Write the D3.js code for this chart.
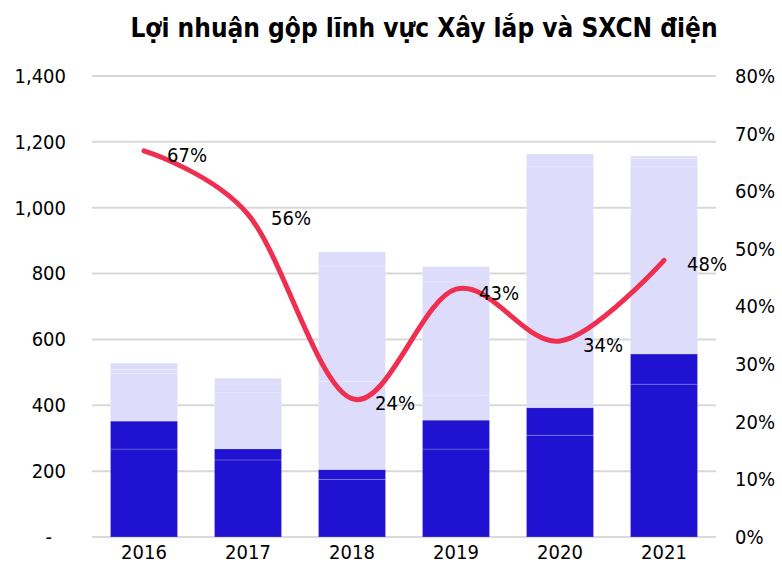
<!DOCTYPE html>
<html>
<head>
<meta charset="utf-8">
<script src="https://cdn.jsdelivr.net/npm/d3@7"></script>
<style>
  body { margin: 0; background: #fff; }
  text { font-family: "DejaVu Sans Condensed", "DejaVu Sans", sans-serif; }
</style>
</head>
<body>
<div id="chart"></div>
<script>
var years = ["2016", "2017", "2018", "2019", "2020", "2021"];
// stacked segments, bottom to top
var dark1  = [267, 234, 175, 267, 309, 464];
var dark2  = [85, 34, 30, 88, 84, 92];
var light1 = [145, 170, 267, 76, 731, 568];
var light2 = [12, 27, 351, 344, 0, 26];
var light3 = [19, 17, 43, 46, 39, 7];
var margin = [67, 56, 24, 43, 34, 48];
var leftTicks = [0, 200, 400, 600, 800, 1000, 1200, 1400];
var rightTicks = [0, 10, 20, 30, 40, 50, 60, 70, 80];

var W = 782, H = 573;
var svg = d3.select("#chart").append("svg")
    .attr("width", W)
    .attr("height", H);

var x = d3.scaleBand().domain(years).range([92, 716]).paddingInner(0.356).paddingOuter(0.178);
var y = d3.scaleLinear().domain([0, 1400]).range([537, 76]);
var y2 = d3.scaleLinear().domain([0, 80]).range([537, 76]);

svg.append("text")
    .attr("x", 424).attr("y", 37)
    .attr("text-anchor", "middle")
    .attr("font-weight", "bold")
    .attr("font-size", 26)
    .text("Lợi nhuận gộp lĩnh vực Xây lắp và SXCN điện");

// gridlines
svg.append("g")
  .selectAll("line")
  .data(leftTicks)
  .enter().append("line")
    .attr("x1", 92).attr("x2", 716)
    .attr("y1", function(d) { return y(d); })
    .attr("y2", function(d) { return y(d); })
    .attr("stroke", "#d9d9d9")
    .attr("stroke-width", 2);

// left axis (zero shown as dash, accounting style)
svg.append("g")
    .attr("transform", "translate(66,0)")
    .call(d3.axisLeft(y).tickValues(leftTicks).tickSize(0).tickPadding(0)
      .tickFormat(function(d) { return d === 0 ? "-" : d3.format(",")(d); }))
    .call(function(g) { g.select(".domain").remove(); })
    .selectAll("text")
      .attr("font-size", 20)
      .attr("fill", "#000")
      .attr("dx", function(d) { return d === 0 ? -14 : 0; })
      .style("font-family", "DejaVu Sans Condensed");

// right axis
svg.append("g")
    .attr("transform", "translate(735,0)")
    .call(d3.axisRight(y2).tickValues(rightTicks).tickSize(0).tickPadding(0)
      .tickFormat(function(d) { return d + "%"; }))
    .call(function(g) { g.select(".domain").remove(); })
    .selectAll("text")
      .attr("font-size", 20)
      .attr("fill", "#000")
      .style("font-family", "DejaVu Sans Condensed");

// x axis
svg.append("g")
    .attr("transform", "translate(0,545)")
    .call(d3.axisBottom(x).tickSize(0).tickPadding(0))
    .call(function(g) { g.select(".domain").remove(); })
    .selectAll("text")
      .attr("font-size", 20)
      .attr("dy", "0.71em")
      .attr("fill", "#000")
      .style("font-family", "DejaVu Sans Condensed");

// stacked bars
var keys = ["dark1", "dark2", "light1", "light2", "light3"];
var colors = {dark1: "#1f13d1", dark2: "#1f13d1", light1: "#dddcfb", light2: "#dddcfb", light3: "#dddcfb"};
var table = years.map(function(yr, i) {
  return {year: yr, dark1: dark1[i], dark2: dark2[i], light1: light1[i], light2: light2[i], light3: light3[i]};
});
var series = d3.stack().keys(keys)(table);

svg.append("g")
  .selectAll("g")
  .data(series)
  .enter().append("g")
    .attr("fill", function(s) { return colors[s.key]; })
  .selectAll("rect")
  .data(function(s) { return s; })
  .enter().append("rect")
    .attr("x", function(d) { return x(d.data.year); })
    .attr("y", function(d) { return y(d[1]); })
    .attr("width", x.bandwidth())
    .attr("height", function(d) { return y(d[0]) - y(d[1]); })
    .attr("stroke", "rgba(255,255,255,0.18)")
    .attr("stroke-width", 1);

// margin line
var cx = function(i) { return x(years[i]) + x.bandwidth() / 2; };
var line = d3.line()
    .x(function(d, i) { return cx(i); })
    .y(function(d) { return y2(d); })
    .curve(d3.curveCatmullRom.alpha(0));

svg.append("path")
    .datum(margin)
    .attr("d", line)
    .attr("fill", "none")
    .attr("stroke", "#ee2f50")
    .attr("stroke-width", 5)
    .attr("stroke-linecap", "round");

svg.append("g")
  .selectAll("text")
  .data(margin)
  .enter().append("text")
    .attr("x", function(d, i) { return cx(i) + 23; })
    .attr("y", function(d) { return y2(d) + 4; })
    .attr("dy", "0.35em")
    .attr("font-size", 20)
    .attr("fill", "#000")
    .text(function(d) { return d + "%"; });
</script>
</body>
</html>
